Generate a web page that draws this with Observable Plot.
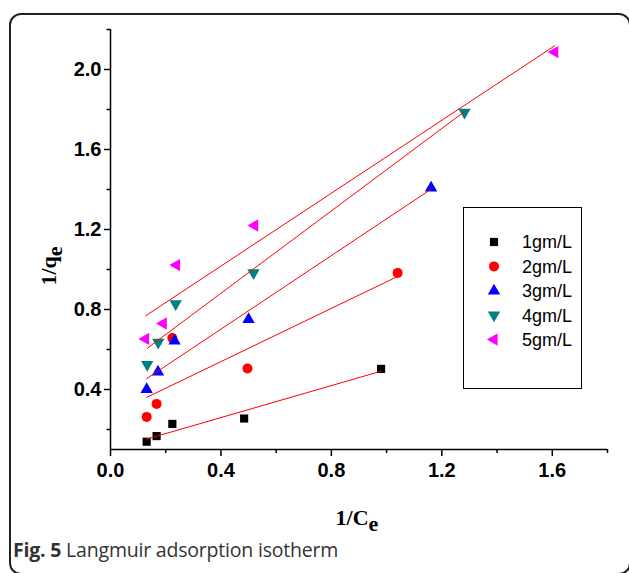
<!DOCTYPE html>
<html><head><meta charset="utf-8">
<script src="https://cdn.jsdelivr.net/npm/d3@7"></script>
<script src="https://cdn.jsdelivr.net/npm/@observablehq/plot@0.6"></script>
<style>
body{margin:0;background:#fff;}
#wrap{position:relative;width:629px;height:573px;overflow:hidden;background:#fff;}
#box{position:absolute;left:9px;top:13px;width:622px;height:562px;border:2px solid #222;border-radius:12px;box-sizing:border-box;pointer-events:none;}
#chart{position:absolute;left:0;top:0;}
#caption{position:absolute;left:13px;top:536px;font-family:"Open Sans",sans-serif;font-size:19.5px;color:#333;white-space:nowrap;letter-spacing:-0.2px;}
#caption b{font-weight:700;}
</style>
</head><body>
<div id="wrap"><div id="chart"></div><div id="box"></div>
<div id="caption"><b>Fig. 5</b> Langmuir adsorption isotherm</div></div>
<script>
// ---- data ----
const SERIES = ["1gm/L", "2gm/L", "3gm/L", "4gm/L", "5gm/L"];
const X1 = [0.131, 0.167, 0.224, 0.484, 0.980];
const Y1 = [0.139, 0.167, 0.228, 0.255, 0.503];
const X2 = [0.131, 0.167, 0.224, 0.496, 1.040];
const Y2 = [0.263, 0.328, 0.657, 0.505, 0.983];
const X3 = [0.131, 0.172, 0.232, 0.500, 1.161];
const Y3 = [0.400, 0.488, 0.643, 0.750, 1.408];
const X4 = [0.133, 0.173, 0.236, 0.518, 1.282];
const Y4 = [0.525, 0.636, 0.828, 0.983, 1.786];
const X5 = [0.127, 0.191, 0.239, 0.522, 1.609];
const Y5 = [0.653, 0.730, 1.022, 1.220, 2.087];
const X_TICKS = [0, 0.4, 0.8, 1.2, 1.6];
const X_MINOR = [0.2, 0.6, 1.0, 1.4, 1.8];
const Y_TICKS = [0.4, 0.8, 1.2, 1.6, 2.0];
const Y_MINOR = [0.2, 0.6, 1.0, 1.4, 1.8, 2.2];

const XS = [X1, X2, X3, X4, X5];
const YS = [Y1, Y2, Y3, Y4, Y5];
// styles
const COLORS = ["#000000", "#ff0000", "#0000ff", "#008080", "#ff00ff"];
const SYMBOLS = ["square", "circle", "triangle", "triangle", "triangle"];
const ROTATE = [0, 0, 0, 180, -90];
const RADII = [4.6, 5, 4.6, 4.6, 4.6];

const marks = [];
SERIES.forEach((s, k) => {
  const idx = d3.range(XS[k].length);
  marks.push(Plot.dot(idx, {x: i => XS[k][i], y: i => YS[k][i], symbol: SYMBOLS[k], r: RADII[k], fill: COLORS[k], stroke: "none", rotate: ROTATE[k]}));
});
SERIES.forEach((s, k) => {
  const idx = d3.range(XS[k].length);
  marks.push(Plot.linearRegressionY(idx, {x: i => XS[k][i], y: i => YS[k][i], stroke: "#ff0000", strokeWidth: 1, ci: 0}));
});

const fmt = d => d.toFixed(1);
const plot = Plot.plot({
  width: 629, height: 550,
  marginLeft: 110, marginRight: 22, marginTop: 29, marginBottom: 101,
  x: {domain: [0, 1.8], label: null},
  y: {domain: [0.1, 2.2], label: null},
  style: {fontFamily: "'Liberation Sans', Arial, sans-serif", background: "transparent", color: "#000"},
  marks: [
    Plot.ruleX([0], {stroke: "#000", strokeWidth: 1.5}),
    Plot.ruleY([0.1], {stroke: "#000", strokeWidth: 1.5}),
    Plot.axisX(X_TICKS, {tickSize: 7, tickPadding: 6, strokeWidth: 1.5, tickFormat: fmt, fontSize: 20, fontWeight: "bold", label: null}),
    Plot.axisX(X_MINOR, {tickSize: 4, strokeWidth: 1.5, tickFormat: () => "", label: null}),
    Plot.axisY(Y_TICKS, {tickSize: 6, tickPadding: 3, strokeWidth: 1.5, tickFormat: fmt, fontSize: 20, fontWeight: "bold", label: null}),
    Plot.axisY(Y_MINOR, {tickSize: 3.5, strokeWidth: 1.5, tickFormat: () => "", label: null}),
    ...marks
  ]
});
document.getElementById("chart").appendChild(plot);

// axis titles and legend
const svg = d3.select(plot);
const xt = svg.append("text").attr("x", 357).attr("y", 525).attr("text-anchor", "middle")
  .style("font-family", "'Liberation Serif', 'Times New Roman', serif").style("font-weight", "bold").style("font-size", "22px");
xt.append("tspan").text("1/C");
xt.append("tspan").attr("dy", 6).text("e");
const yt = svg.append("text").attr("transform", "translate(56,266) rotate(-90)").attr("text-anchor", "middle")
  .style("font-family", "'Liberation Serif', 'Times New Roman', serif").style("font-weight", "bold").style("font-size", "22px");
yt.append("tspan").text("1/q");
yt.append("tspan").attr("dy", 6).text("e");

const lg = svg.append("g").attr("text-anchor", "start");
lg.append("rect").attr("x", 463.5).attr("y", 207.5).attr("width", 118).attr("height", 181).attr("fill", "none").attr("stroke", "#000").attr("stroke-width", 1);
const symMap = {square: d3.symbolSquare, circle: d3.symbolCircle, triangle: d3.symbolTriangle};
SERIES.forEach((s, k) => {
  const yy = 242 + k * 24.4;
  lg.append("path").attr("d", d3.symbol(symMap[SYMBOLS[k]], Math.PI * RADII[k] * RADII[k])())
    .attr("transform", `translate(494,${yy}) rotate(${ROTATE[k]})`).attr("fill", COLORS[k]);
  lg.append("text").attr("x", 522).attr("y", yy).attr("dy", "0.36em").attr("text-anchor", "start")
    .style("font-family", "'Liberation Sans', Arial, sans-serif").style("font-size", "18px").text(s);
});
</script>
</body></html>
